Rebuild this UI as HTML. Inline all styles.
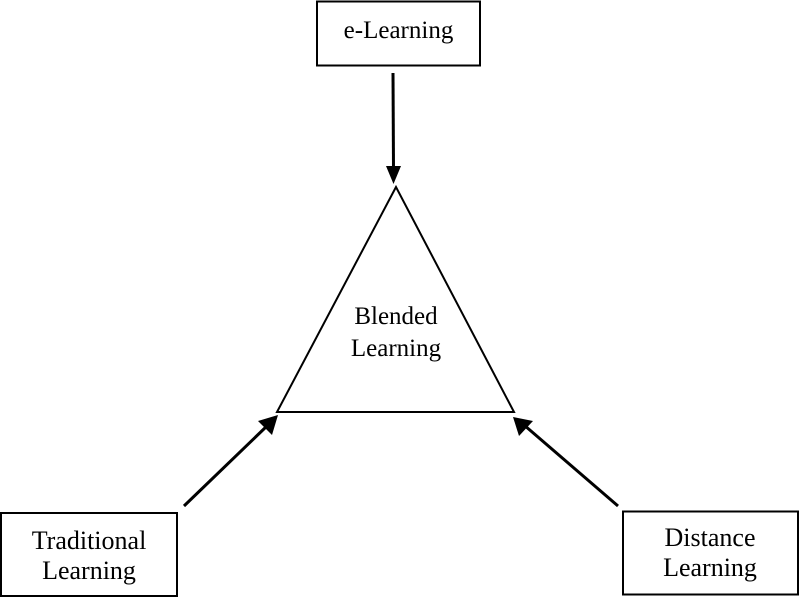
<!DOCTYPE html>
<html><head><style>body{margin:0;background:#fff}</style></head><body>
<svg width="800" height="598" xmlns="http://www.w3.org/2000/svg" font-family="Liberation Serif, serif" fill="#000">
<rect x="317" y="1.5" width="163" height="64" fill="none" stroke="#000" stroke-width="2"/>
<text x="398.5" y="38" font-size="25" text-anchor="middle">e-Learning</text>
<line x1="393" y1="73" x2="393.5" y2="168" stroke="#000" stroke-width="3"/>
<polygon points="386,166 401,166 393.5,184"/>
<polygon points="396,187 277,412 514,412" fill="none" stroke="#000" stroke-width="2"/>
<text x="396" y="324" font-size="25" text-anchor="middle">Blended</text>
<text x="396" y="356" font-size="25" text-anchor="middle">Learning</text>
<line x1="184" y1="506" x2="268" y2="425" stroke="#000" stroke-width="3"/>
<polygon points="278,415 272,435 258,421"/>
<line x1="618" y1="506" x2="524" y2="425" stroke="#000" stroke-width="3"/>
<polygon points="513,417 533,421 519,436"/>
<rect x="1" y="513" width="176" height="83" fill="none" stroke="#000" stroke-width="2"/>
<text x="89" y="549" font-size="26" text-anchor="middle">Traditional</text>
<text x="89" y="579" font-size="26" text-anchor="middle">Learning</text>
<rect x="623" y="511.5" width="175" height="83" fill="none" stroke="#000" stroke-width="2"/>
<text x="710" y="546" font-size="26" text-anchor="middle">Distance</text>
<text x="710" y="576" font-size="26" text-anchor="middle">Learning</text>
</svg>
</body></html>
